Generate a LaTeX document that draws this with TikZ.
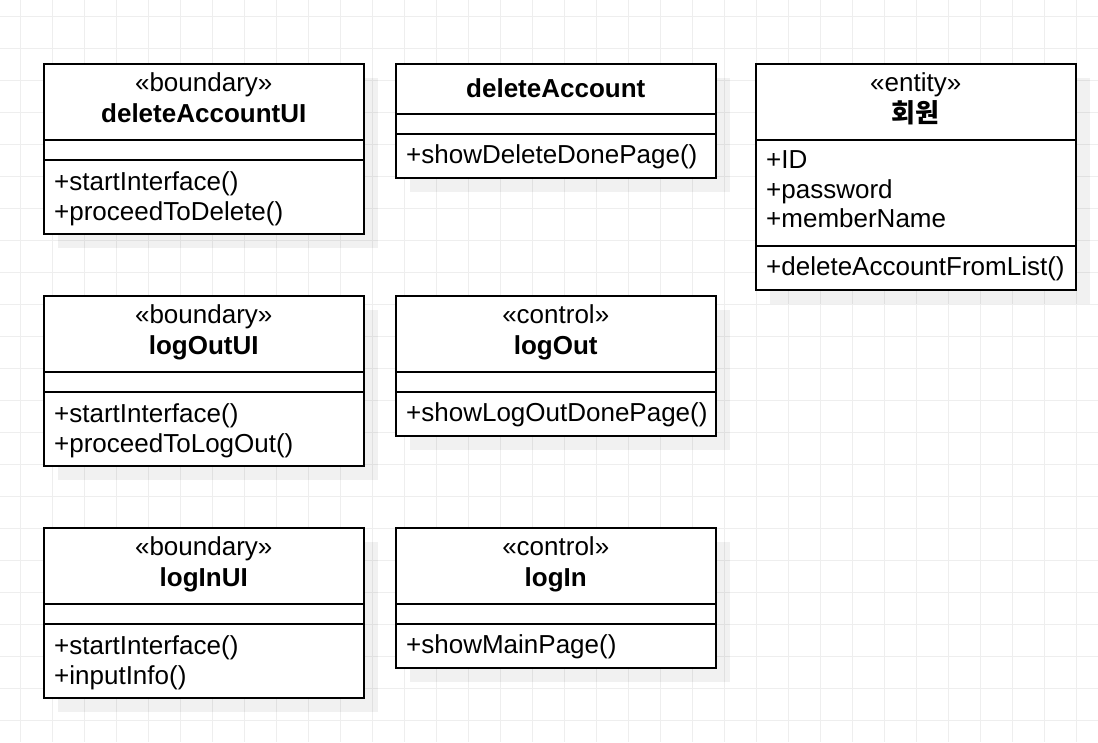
\documentclass[tikz,border=0pt]{standalone}
\usepackage{fontspec}
\setmainfont{Liberation Sans}
\newfontfamily\kr{Noto Sans CJK KR}
\definecolor{gridc}{RGB}{238,238,238}
\tikzset{
  gridline/.style={draw=gridc, line width=1pt},
  shadowbox/.style={fill=black, fill opacity=0.055, draw=none},
  comp/.style={draw=black, line width=2pt, fill=white, anchor=north west,
    inner sep=0pt, outer sep=0pt, minimum width=319.5pt},
  txt/.style={anchor=base west, inner sep=0pt, font=\fontsize{26}{30}\selectfont},
  ttl/.style={anchor=base, inner sep=0pt, font=\fontsize{26}{30}\selectfont},
  ttlb/.style={ttl, font=\fontsize{26}{30}\selectfont\bfseries},
}
% #1 name, #2 x, #3 y, #4 header h, #5 attr h, #6 method h
\newcommand\umlklass[6]{%
  \fill[shadowbox] ({#2+14},{#3+14}) rectangle ++(319.5,{#4+#5+#6});
  \node[comp, minimum height=#4pt] (#1h) at (#2,#3) {};
  \node[comp, minimum height=#5pt] (#1a) at (#1h.south west) {};
  \node[comp, minimum height=#6pt] (#1m) at (#1a.south west) {};
}
\begin{document}
\begin{tikzpicture}[x=1pt,y=-1pt]
\useasboundingbox (0,0) rectangle (1098,742);
\fill[white] (0,0) rectangle (1098,742);
\foreach \gx in {20,52,...,1098} \draw[gridline] (\gx,0) -- (\gx,742);
\foreach \gy in {16,48,...,742} \draw[gridline] (0,\gy) -- (1098,\gy);

% row 1
\umlklass{dui}{44}{64}{76}{20}{74}
\node[ttl]  (duiS) at ([yshift=-27pt]duih.north) {«boundary»};
\node[ttlb] (duiN) at ([yshift=-58pt]duih.north) {deleteAccountUI};
\node[txt]  (duiM1) at ([xshift=10pt,yshift=-30pt]duim.north west) {+startInterface()};
\node[txt]  (duiM2) at ([xshift=10pt,yshift=-60pt]duim.north west) {+proceedToDelete()};

\umlklass{dac}{396}{64}{50}{20}{44}
\node[ttlb] (dacN) at ([yshift=-33pt]dach.north) {deleteAccount};
\node[txt]  (dacM1) at ([xshift=10pt,yshift=-29pt]dacm.north west) {+showDeleteDonePage()};

\umlklass{mem}{756}{64}{76}{106}{44}
\node[ttl]  (memS) at ([yshift=-27pt]memh.north) {«entity»};
\node[ttlb] (memN) at ([yshift=-58pt]memh.north) {\kr\bfseries 회원};
\node[txt]  (memA1) at ([xshift=10pt,yshift=-28pt]mema.north west) {+ID};
\node[txt]  (memA2) at ([xshift=10pt,yshift=-58pt]mema.north west) {+password};
\node[txt]  (memA3) at ([xshift=10pt,yshift=-87pt]mema.north west) {+memberName};
\node[txt]  (memM1) at ([xshift=10pt,yshift=-29pt]memm.north west) {+deleteAccountFromList()};

% row 2
\umlklass{loui}{44}{296}{76}{20}{74}
\node[ttl]  (louiS) at ([yshift=-27pt]louih.north) {«boundary»};
\node[ttlb] (louiN) at ([yshift=-58pt]louih.north) {logOutUI};
\node[txt]  (louiM1) at ([xshift=10pt,yshift=-30pt]louim.north west) {+startInterface()};
\node[txt]  (louiM2) at ([xshift=10pt,yshift=-60pt]louim.north west) {+proceedToLogOut()};

\umlklass{lo}{396}{296}{76}{20}{44}
\node[ttl]  (loS) at ([yshift=-27pt]loh.north) {«control»};
\node[ttlb] (loN) at ([yshift=-58pt]loh.north) {logOut};
\node[txt]  (loM1) at ([xshift=10pt,yshift=-29pt]lom.north west) {+showLogOutDonePage()};

% row 3
\umlklass{liui}{44}{528}{76}{20}{74}
\node[ttl]  (liuiS) at ([yshift=-27pt]liuih.north) {«boundary»};
\node[ttlb] (liuiN) at ([yshift=-58pt]liuih.north) {logInUI};
\node[txt]  (liuiM1) at ([xshift=10pt,yshift=-30pt]liuim.north west) {+startInterface()};
\node[txt]  (liuiM2) at ([xshift=10pt,yshift=-60pt]liuim.north west) {+inputInfo()};

\umlklass{li}{396}{528}{76}{20}{44}
\node[ttl]  (liS) at ([yshift=-27pt]lih.north) {«control»};
\node[ttlb] (liN) at ([yshift=-58pt]lih.north) {logIn};
\node[txt]  (liM1) at ([xshift=10pt,yshift=-29pt]lim.north west) {+showMainPage()};
\end{tikzpicture}
\end{document}
